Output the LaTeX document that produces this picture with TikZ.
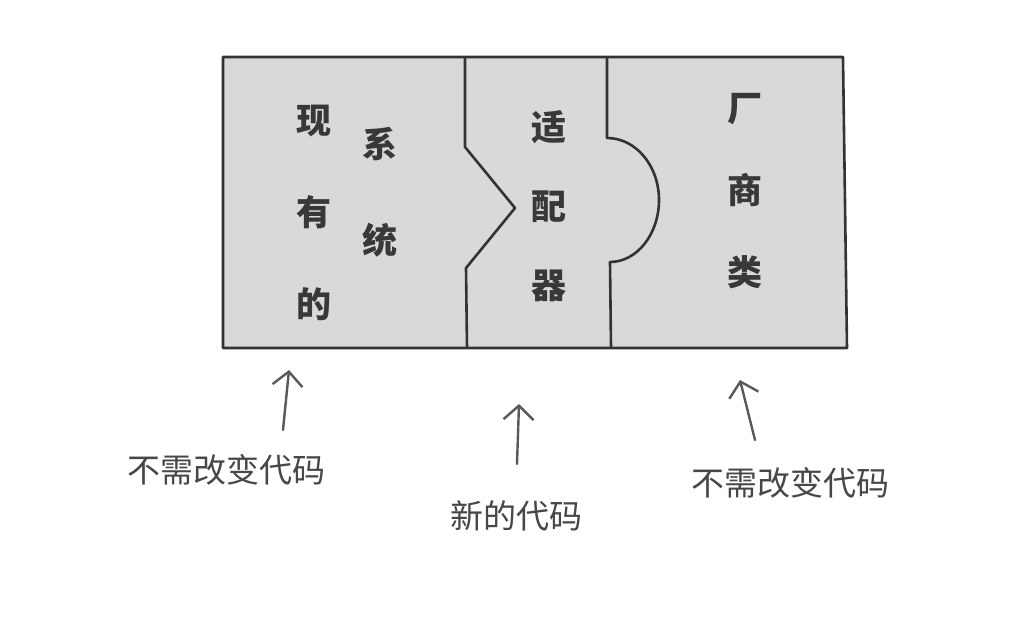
\documentclass[tikz,border=0pt]{standalone}
\usepackage{fontspec}
\newfontfamily\cjk{Noto Sans CJK SC}
\usetikzlibrary{arrows.meta}
\begin{document}
\begin{tikzpicture}[x=1pt,y=-1pt,
  boxline/.style={draw=black!80,line width=2.6pt,line join=round},
  coltext/.style={font=\cjk\bfseries\fontsize{35}{#1}\selectfont,text=black!78,align=center,inner sep=0pt},
  lbl/.style={font=\cjk\fontsize{33}{36}\selectfont,text=black!72,inner sep=0pt},
  uparrow/.style={draw=black!65,line width=2.4pt,line cap=round,-{Straight Barb[length=14pt,width=30pt,line width=2.4pt]}}]
\useasboundingbox[fill=white] (0,0) rectangle (1012,622);
% box
\fill[black!15] (223,57) -- (843,57) -- (847,348) -- (223,348) -- cycle;
\draw[boxline] (223,57) -- (843,57) -- (847,348) -- (223,348) -- cycle;
% left divider (zigzag)
\draw[boxline] (465,57) -- (465,147) -- (515,208) -- (466,268) -- (467,348);
% right divider (semicircle)
\draw[boxline] (607,57) -- (607,138) .. controls (636,138) and (659,166) .. (659,200)
  .. controls (659,234) and (637,262) .. (610,262) -- (611,348);
% texts in box
\node[coltext=92] (t1) at (314,213) {现\\有\\的};
\node[coltext=96] (t2) at (380,192) {系\\统};
\node[coltext=79] (t3) at (549,206) {适\\配\\器};
\node[coltext=82] (t4) at (745,191) {厂\\商\\类};
% labels
\node[lbl] (l1) at (226,470) {不需改变代码};
\node[lbl] (l2) at (516,516) {新的代码};
\node[lbl] (l3) at (790,483) {不需改变代码};
% arrow tips
\coordinate (a1) at (289,370);
\coordinate (a2) at (519,404);
\coordinate (a3) at (740,380);
\coordinate (b1) at (283,430);
\coordinate (b2) at (517,464);
\coordinate (b3) at (755,440);
\draw[uparrow] (b1) -- (a1);
\draw[uparrow] (b2) -- (a2);
\draw[uparrow] (b3) -- (a3);
\end{tikzpicture}
\end{document}
